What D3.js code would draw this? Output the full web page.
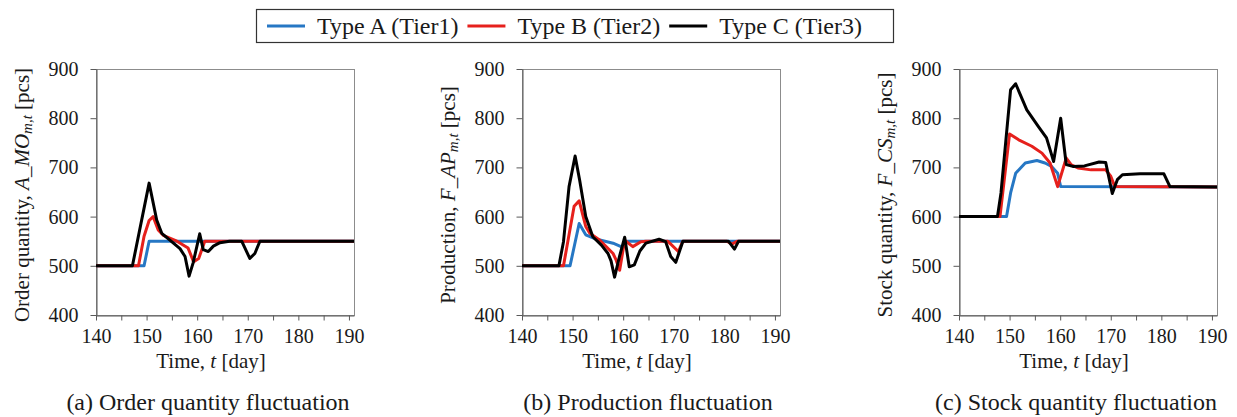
<!DOCTYPE html>
<html>
<head>
<meta charset="utf-8">
<script src="https://cdn.jsdelivr.net/npm/d3@7"></script>
<style>
  html, body { margin: 0; padding: 0; background: #fff; }
  svg { display: block; font-family: "Liberation Serif", "Times New Roman", serif; }
</style>
</head>
<body>
<svg id="chart" width="1237" height="417"></svg>
<script>
// ---------------- DATA ----------------
const seriesNames = ["Type A (Tier1)", "Type B (Tier2)", "Type C (Tier3)"];
const xTicks = [140, 145, 150, 155, 160, 165, 170, 175, 180, 185, 190];
const yTicks = [400, 500, 600, 700, 800, 900];

// (a) Order quantity
const orderA_t = [140, 149.5, 150.5, 191];
const orderA_v = [500, 500, 550, 550];
const orderB_t = [140, 148.4, 149.5, 150.5, 151.3, 152.3, 153.3, 156, 158.2, 159.3, 160.3, 161.0, 161.5, 191];
const orderB_v = [500, 500, 560, 592, 600, 573, 562, 550, 536, 508, 515, 535, 550, 550];
const orderC_t = [140, 147.2, 150.5, 152, 153, 154.6, 156.6, 157.6, 158.4, 159.2, 160.5, 161.2, 162.2, 163.2, 164.5, 166.4, 168.8, 170.4, 171.4, 172.4, 191];
const orderC_v = [500, 500, 668, 593, 566, 552, 535, 519, 479, 506, 565, 533, 529, 540, 547, 550, 550, 515, 525, 550, 550];

// (b) Production
const prodA_t = [140, 149.5, 151.3, 152.6, 154.4, 158, 159.8, 160.8, 191];
const prodA_v = [500, 500, 586, 563, 555, 546, 538, 550, 550];
const prodB_t = [140, 148.2, 150.3, 151.3, 152.6, 153.4, 155.4, 158, 158.6, 159.3, 160.3, 161.9, 163.5, 164.5, 168.8, 170.9, 171.8, 180.5, 181.5, 182.5, 191];
const prodB_v = [500, 500, 621, 632, 580, 566, 552, 525, 512, 491, 552, 539, 549, 550, 550, 529, 550, 550, 544, 550, 550];
const prodC_t = [140, 147.3, 148.2, 149.3, 150.5, 151.4, 152.6, 154, 155.7, 157, 157.6, 158.3, 159.3, 160.3, 161.2, 162.2, 163.3, 164.5, 167.1, 168.4, 169.4, 170.4, 171.8, 180.8, 182, 182.8, 191];
const prodC_v = [500, 500, 549, 661, 723, 674, 600, 559, 542, 525, 510, 477, 520, 558, 498, 502, 530, 546, 554, 549, 519, 507, 550, 550, 534, 550, 550];

// (c) Stock quantity
const stockA_t = [140, 149.4, 150.2, 151.2, 153.1, 155.4, 157, 158.3, 159.5, 160.1, 191];
const stockA_v = [600, 600, 648, 688, 709, 714, 709, 702, 688, 661, 660];
const stockB_t = [140, 148.1, 150, 151.8, 154.4, 156.4, 158, 159.5, 161.2, 162.2, 163.5, 166.1, 169, 170, 170.8, 191];
const stockB_v = [600, 600, 768, 756, 743, 729, 709, 661, 719, 705, 699, 695, 695, 682, 661, 660];
const stockC_t = [140, 147.6, 148.3, 150.2, 151.2, 153.4, 155.7, 157.3, 158.3, 158.7, 160.1, 161.2, 162.5, 164.8, 167.7, 169, 170.3, 171.3, 172.3, 175.8, 180.5, 181.7, 191];
const stockC_v = [600, 600, 648, 858, 870, 817, 783, 760, 726, 712, 800, 706, 702, 703, 711, 710, 647, 675, 685, 687, 687, 661, 660];

const captions = ["(a) Order quantity fluctuation", "(b) Production fluctuation", "(c) Stock quantity fluctuation"];
const yLabelPre = ["Order quantity, ", "Production, ", "Stock quantity, "];
const yLabelVar = ["A_MO", "F_AP", "F_CS"];

// ---------------- STYLE / LAYOUT ----------------
const colors = ["#2677c4", "#e6201c", "#000000"];
const FONT = "'Liberation Serif', 'Times New Roman', serif";
const plotTop = 69, plotBottom = 315, pw = 258;
const lefts = [96, 522, 959];
const captionCx = [208, 648, 1076];

const panels = [
  [[orderA_t, orderA_v], [orderB_t, orderB_v], [orderC_t, orderC_v]],
  [[prodA_t, prodA_v], [prodB_t, prodB_v], [prodC_t, prodC_v]],
  [[stockA_t, stockA_v], [stockB_t, stockB_v], [stockC_t, stockC_v]]
];

const svg = d3.select("#chart");

panels.forEach((series, i) => {
  const left = lefts[i];
  const x = d3.scaleLinear().domain([140, 191]).range([left, left + pw]);
  const y = d3.scaleLinear().domain([400, 900]).range([plotBottom, plotTop]);
  const g = svg.append("g");

  // frame
  g.append("rect")
    .attr("x", left + 0.5).attr("y", plotTop + 0.5)
    .attr("width", pw).attr("height", plotBottom - plotTop)
    .attr("fill", "none").attr("stroke", "#8c8c8c").attr("stroke-width", 1);

  // axes
  const xa = g.append("g").attr("transform", `translate(0,${plotBottom + 0.5})`)
    .call(d3.axisBottom(x).tickValues(xTicks)
      .tickFormat(d => d % 10 === 0 ? d : "")
      .tickSizeInner(5).tickSizeOuter(0).tickPadding(8));
  const ya = g.append("g").attr("transform", `translate(${left + 0.5},0)`)
    .call(d3.axisLeft(y).tickValues(yTicks)
      .tickSizeInner(6).tickSizeOuter(0).tickPadding(12));
  [xa, ya].forEach(a => {
    a.select(".domain").attr("stroke", "#595959");
    a.selectAll(".tick line").attr("stroke", "#595959");
    a.selectAll(".tick text").attr("font-family", FONT).attr("font-size", 20).attr("fill", "#1a1a1a");
  });

  // lines
  const line = d3.line().x(d => x(d[0])).y(d => y(d[1]));
  series.forEach((s, k) => {
    const pts = s[0].map((t, j) => [t, s[1][j]]);
    g.append("path").datum(pts)
      .attr("d", line)
      .attr("fill", "none")
      .attr("stroke", colors[k])
      .attr("stroke-width", 3)
      .attr("stroke-linejoin", "round");
  });

  // x title
  const xt = g.append("text")
    .attr("x", left + pw / 2 - 14).attr("y", 368)
    .attr("text-anchor", "middle")
    .attr("font-family", FONT).attr("font-size", 21).attr("fill", "#1a1a1a");
  xt.append("tspan").text("Time, ");
  xt.append("tspan").attr("font-style", "italic").text("t");
  xt.append("tspan").text(" [day]");

  // y title
  const yt = g.append("text")
    .attr("transform", `translate(${left - 74},195) rotate(-90)`)
    .attr("text-anchor", "middle")
    .attr("dominant-baseline", "central")
    .attr("font-family", FONT).attr("font-size", 21).attr("fill", "#1a1a1a");
  yt.append("tspan").text(yLabelPre[i]);
  yt.append("tspan").attr("font-style", "italic").text(yLabelVar[i]);
  yt.append("tspan").attr("font-style", "italic").attr("font-size", 15).attr("dy", 5).text("m,t");
  yt.append("tspan").attr("dy", -5).text(" [pcs]");

  // caption
  g.append("text")
    .attr("x", captionCx[i]).attr("y", 410)
    .attr("text-anchor", "middle")
    .attr("font-family", FONT).attr("font-size", 24).attr("fill", "#1a1a1a")
    .text(captions[i]);
});

// legend
const lg = svg.append("g");
lg.append("rect")
  .attr("x", 256.5).attr("y", 9.5).attr("width", 637).attr("height", 33)
  .attr("fill", "#fff").attr("stroke", "#333").attr("stroke-width", 1.2);
let lx = 267;
seriesNames.forEach((name, k) => {
  lg.append("line")
    .attr("x1", lx).attr("x2", lx + 38).attr("y1", 26).attr("y2", 26)
    .attr("stroke", colors[k]).attr("stroke-width", 3);
  const t = lg.append("text")
    .attr("x", lx + 50).attr("y", 34)
    .attr("font-family", FONT).attr("font-size", 24).attr("fill", "#1a1a1a")
    .text(name);
  lx = lx + 50 + t.node().getComputedTextLength() + 9;
});
</script>
</body>
</html>
